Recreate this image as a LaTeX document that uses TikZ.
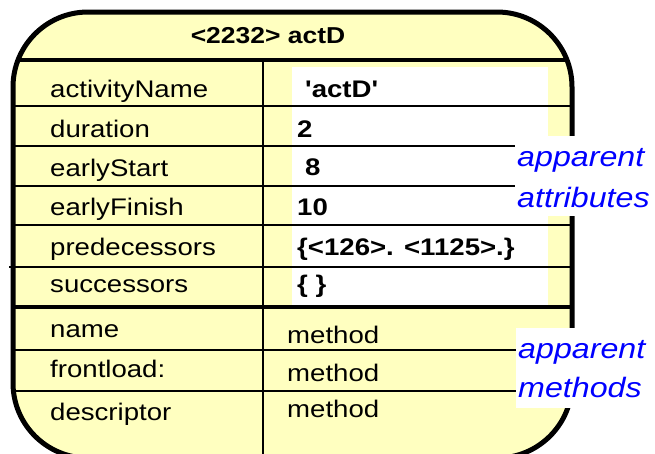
\documentclass[tikz,border=0pt]{standalone}
\usepackage{fontspec}
\setmainfont{Liberation Sans}
\newfontfamily\wideface[FakeStretch=1.15]{Liberation Sans}
\definecolor{objyellow}{RGB}{255,255,192}
\definecolor{noteblue}{RGB}{0,0,255}
\tikzset{
  slot/.style={anchor=base west, inner sep=0pt, font=\wideface\fontsize{24}{28}\selectfont},
  val/.style={anchor=base west, inner sep=0pt, font=\wideface\bfseries\fontsize{24}{28}\selectfont},
  note/.style={anchor=base west, inner sep=0pt, text=noteblue, font=\wideface\itshape\fontsize{28}{32}\selectfont},
  rowline/.style={line width=1.5pt},
  heavy/.style={line width=4pt},
}

\begin{document}
\begin{tikzpicture}[x=1pt,y=-1pt]
                \useasboundingbox (0,0) rectangle (655,453);
                \clip (0,0) rectangle (655,453);
                % object body
                \fill[objyellow, rounded corners=75pt] (13,12) rectangle (572,458);
                \fill[white] (292,67) rectangle (548,305);
                % slot lines
                \draw[heavy] (17,60) -- (568,60);
                \draw[rowline] (13,106) -- (572,106);
                \draw[rowline] (13,146) -- (572,146);
                \draw[rowline] (13,186) -- (572,186);
                \draw[rowline] (13,225) -- (572,225);
                \draw[rowline] (9,267) -- (572,267);
                \draw[heavy] (13,307) -- (572,307);
                \draw[rowline] (13,350) -- (572,350);
                \draw[rowline] (13,391) -- (572,391);
                \draw[rowline] (263,60) -- (263,458);
                \draw[line width=5pt, rounded corners=75pt] (13,12) rectangle (572,458);
                % side notes
                \fill[white] (515,136) rectangle (655,216);
                \fill[white] (516,328) rectangle (655,408);
                \node[anchor=base, inner sep=0pt, font=\wideface\bfseries\fontsize{23}{27}\selectfont] (title) at (268,43) {<2232> actD};
                \node[slot] (actname) at (50,97) {activityName};
                \node[slot] (dur) at (50,137) {duration};
                \node[slot] (estart) at (50,176) {earlyStart};
                \node[slot] (efinish) at (50,215) {earlyFinish};
                \node[slot] (preds) at (50,255) {predecessors};
                \node[slot] (succs) at (50,292) {successors};
                \node[val] (actnameval) at (305,97) {'actD'};
                \node[val] (durval) at (297,137) {2};
                \node[val] (estartval) at (305,175) {8};
                \node[val] (efinishval) at (297,215) {10};
                \node[val] (predsval) at (297,255) {\{<126>. <1125>.\}};
                \node[val] (succsval) at (297,292) {\{ \}};
                \node[slot] (mname) at (50,337) {name};
                \node[slot] (mfront) at (50,377) {frontload:};
                \node[slot] (mdesc) at (50,420) {descriptor};
                \node[slot] (mnameval) at (287,343) {method};
                \node[slot] (mfrontval) at (287,381) {method};
                \node[slot] (mdescval) at (287,417) {method};
                \node[note] (attrnote) at (517,166) {apparent};
                \node[note] (attrnote2) at (517,207) {attributes};
                \node[note] (methnote) at (518,358) {apparent};
                \node[note] (methnote2) at (518,397) {methods};
            \end{tikzpicture}
\end{document}
